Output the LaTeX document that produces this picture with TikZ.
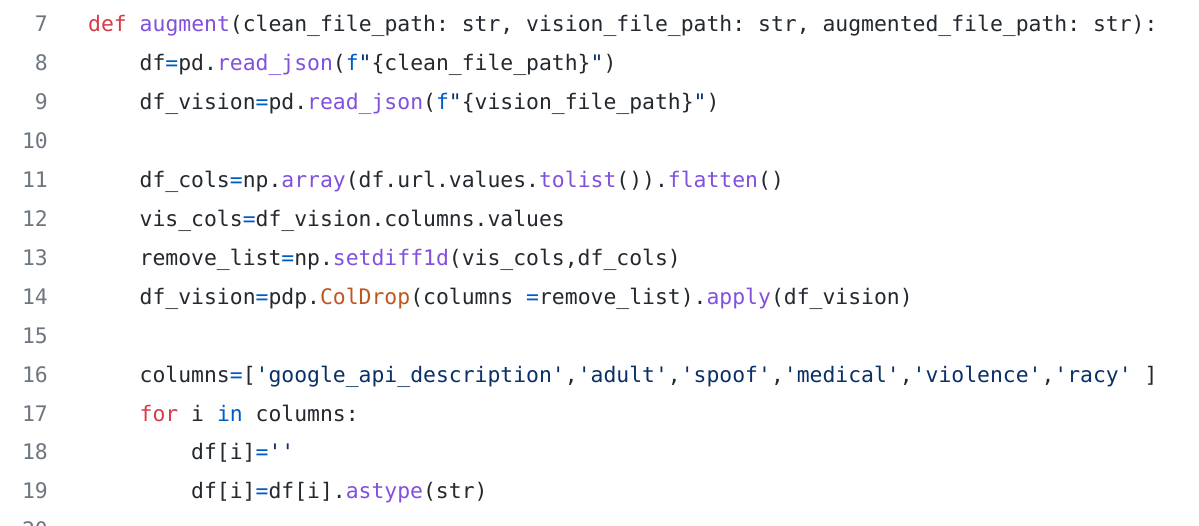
\documentclass[tikz,border=0pt]{standalone}
\usepackage{fontspec}
\setmonofont{DejaVu Sans Mono}
\definecolor{codefg}{HTML}{24292F}
\definecolor{lnumgray}{HTML}{6E7781}
\definecolor{kwred}{HTML}{D73A49}
\definecolor{fnpurple}{HTML}{8250DF}
\definecolor{opblue}{HTML}{005CC5}
\definecolor{strblue}{HTML}{0A3069}
\definecolor{clsorange}{HTML}{C0561E}
\newcommand\cKw[1]{\textcolor{kwred}{#1}}
\newcommand\cFn[1]{\textcolor{fnpurple}{#1}}
\newcommand\cOp[1]{\textcolor{opblue}{#1}}
\newcommand\cSt[1]{\textcolor{strblue}{#1}}
\newcommand\cCl[1]{\textcolor{clsorange}{#1}}
\tikzset{
  codeline/.style={anchor=base west, inner sep=0pt, text=codefg,
    font=\ttfamily\fontsize{21.4}{26}\selectfont},
  lineno/.style={anchor=base east, inner sep=0pt, text=lnumgray,
    font=\ttfamily\fontsize{21.4}{26}\selectfont}
}
\begin{document}
\begin{tikzpicture}[x=1pt,y=-1pt]
\useasboundingbox (0,0) rectangle (1199,526);
\fill[white] (0,0) rectangle (1199,526);
\begin{scope}
\clip (0,0) rectangle (1199,526);
% line numbers
\node[lineno] (n7)  at (48,32.0)  {7};
\node[lineno] (n8)  at (48,70.9)  {8};
\node[lineno] (n9)  at (48,109.8) {9};
\node[lineno] (n10) at (48,148.7) {10};
\node[lineno] (n11) at (48,187.6) {11};
\node[lineno] (n12) at (48,226.5) {12};
\node[lineno] (n13) at (48,265.4) {13};
\node[lineno] (n14) at (48,304.3) {14};
\node[lineno] (n15) at (48,343.2) {15};
\node[lineno] (n16) at (48,382.1) {16};
\node[lineno] (n17) at (48,421.0) {17};
\node[lineno] (n18) at (48,459.9) {18};
\node[lineno] (n19) at (48,498.8) {19};
\node[lineno] (n20) at (48,537.7) {20};
% code
\node[codeline] (l7) at (88,32.0) {\cKw{def} \cFn{augment}(clean\_file\_path: str, vision\_file\_path: str, augmented\_file\_path: str):};
\node[codeline] (l8) at (139.5,70.9) {df\cOp{=}pd.\cFn{read\_json}(\cOp{f}\cSt{"}\{clean\_file\_path\}\cSt{"})};
\node[codeline] (l9) at (139.5,109.8) {df\_vision\cOp{=}pd.\cFn{read\_json}(\cOp{f}\cSt{"}\{vision\_file\_path\}\cSt{"})};
\node[codeline] (l11) at (139.5,187.6) {df\_cols\cOp{=}np.\cFn{array}(df.url.values.\cFn{tolist}()).\cFn{flatten}()};
\node[codeline] (l12) at (139.5,226.5) {vis\_cols\cOp{=}df\_vision.columns.values};
\node[codeline] (l13) at (139.5,265.4) {remove\_list\cOp{=}np.\cFn{setdiff1d}(vis\_cols,df\_cols)};
\node[codeline] (l14) at (139.5,304.3) {df\_vision\cOp{=}pdp.\cCl{ColDrop}(columns \cOp{=}remove\_list).\cFn{apply}(df\_vision)};
\node[codeline] (l16) at (139.5,382.1) {columns\cOp{=}[\cSt{'google\_api\_description'},\cSt{'adult'},\cSt{'spoof'},\cSt{'medical'},\cSt{'violence'},\cSt{'racy'} ]};
\node[codeline] (l17) at (139.5,421.0) {\cKw{for} i \cOp{in} columns:};
\node[codeline] (l18) at (191,459.9) {df[i]\cOp{=}\cSt{''}};
\node[codeline] (l19) at (191,498.8) {df[i]\cOp{=}df[i].\cFn{astype}(str)};
\end{scope}
\end{tikzpicture}
\end{document}
